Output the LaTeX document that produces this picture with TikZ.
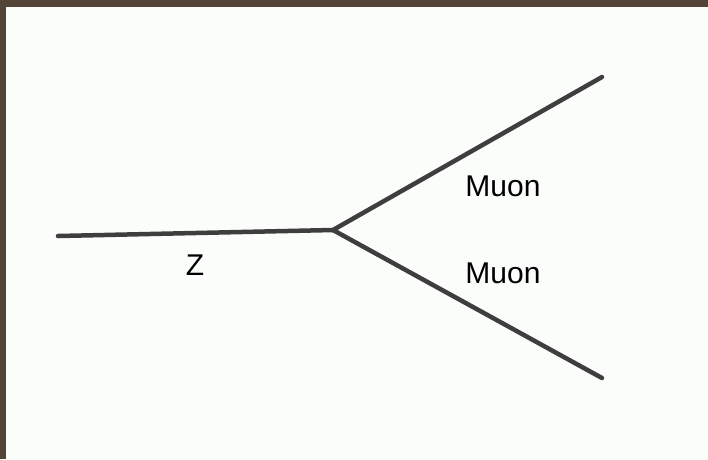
\documentclass[tikz,border=0pt]{standalone}
\usepackage{fontspec}
\setmainfont{Liberation Sans}
\usetikzlibrary{positioning}
\definecolor{frame}{HTML}{524538}
\definecolor{paper}{HTML}{FBFDFB}
\definecolor{ink}{HTML}{3E3E3E}

\begin{document}
\begin{tikzpicture}[
			x=1pt, y=-1pt,
			every node/.style={font=\fontsize{30}{33}\selectfont},
			particle/.style={
				line width=4.5pt,
				draw=ink,
				line cap=round
			},
			label/.style={
				inner sep=0pt,
				text=black
			}
			]
			
			% Background
			\fill[frame] (0,0) rectangle (708,459);
			\fill[paper] (6,7) rectangle (708,459);
			\useasboundingbox (0,0) rectangle (708,459);
			
			% Nodes
			\coordinate (zstart) at (58,236);
			\coordinate (vertex) at (333,230);
			\coordinate (muup) at (602,77);
			\coordinate (mudown) at (602,378);
			
			\node (zlabel) [label] at (195,265) {Z};
			\node (muonup) [label] at (503,186) {Muon};
			\node (muondown) [label] at (503,273) {Muon};
			
			% Lines
			\draw [particle] (zstart) -- (vertex);
			\draw [particle] (vertex) -- (muup);
			\draw [particle] (vertex) -- (mudown);
			
		\end{tikzpicture}
\end{document}
